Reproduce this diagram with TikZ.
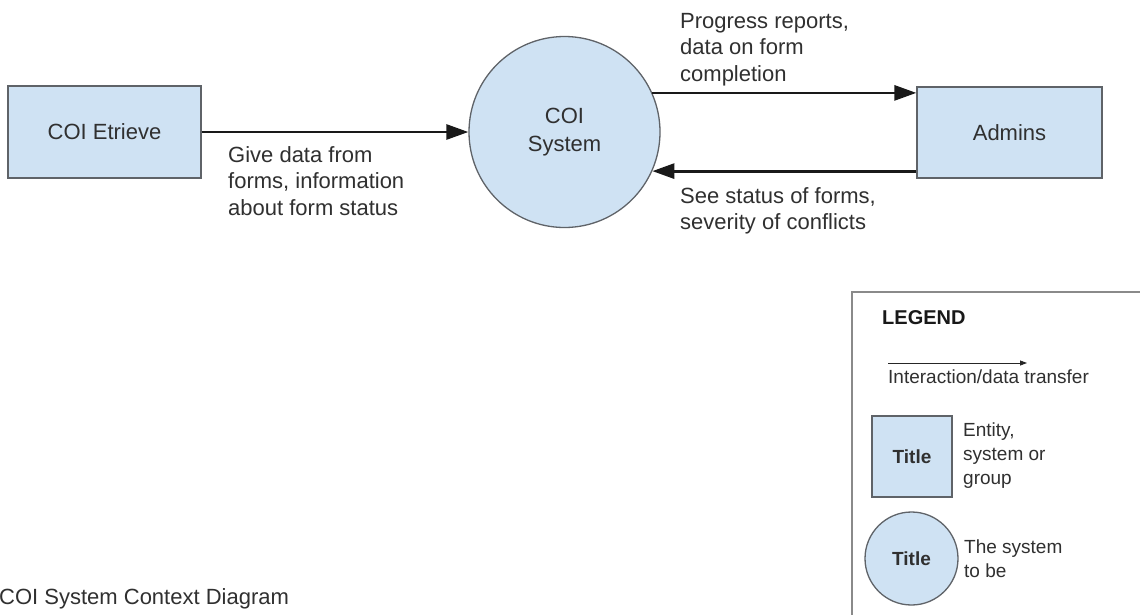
\documentclass[tikz,border=0pt]{standalone}
\usepackage{fontspec}
\setmainfont{Liberation Sans}
\usetikzlibrary{arrows.meta}

\definecolor{boxblue}{HTML}{CFE2F3}
\definecolor{edgegray}{HTML}{5F6368}
\definecolor{ink}{HTML}{303030}
\definecolor{framegray}{HTML}{8A8A8A}

\newcommand{\mainsize}{\fontsize{22}{26.5}\selectfont}
\newcommand{\legsize}{\fontsize{19}{24}\selectfont}

\begin{document}
\begin{tikzpicture}[x=1pt,y=-1pt,
  entity/.style={draw=edgegray, line width=1.3, fill=boxblue, inner sep=0,
                 text=ink, font=\mainsize},
  sysbubble/.style={circle, draw=edgegray, line width=1.3, fill=boxblue, inner sep=0,
                 align=center, text=ink, font=\mainsize},
  flow/.style={line width=2.8, draw=black!90, -{Triangle[length=22,width=15]}},
  lbl/.style={anchor=base west, align=left, inner sep=0, text=ink, font=\mainsize},
  leglbl/.style={anchor=base west, align=left, inner sep=0, text=ink, font=\legsize},
]
\useasboundingbox (0,0) rectangle (1140,614);
\fill[white] (0,0) rectangle (1140,614);
\clip (0,0) rectangle (1140,614);

% main entities and the system
\node[entity, minimum width=193, minimum height=92] (etr) at (104.5,132) {COI Etrieve};
\node[sysbubble, minimum size=191, font=\fontsize{22}{28}\selectfont] (sys) at (564.5,132) {COI\\System};
\node[entity, minimum width=185, minimum height=91] (adm) at (1009.5,132.5) {Admins};

% data flows
\draw[flow] (etr.east) -- (etr.east -| sys.west);
\draw[flow] (sys.24) -- (sys.24 -| adm.west);
\draw[flow] (sys.-24 -| adm.west) -- (sys.-24);

% flow labels (anchored at the baseline of their last line)
\node[lbl] (lblin) at (228,215) {Give data from\\forms, information\\about form status};
\node[lbl] (lblout) at (680,81) {Progress reports,\\data on form\\completion};
\node[lbl] (lblback) at (680,229.5) {See status of forms,\\severity of conflicts};

% legend frame
\draw[framegray, line width=1.6] (852,292) rectangle (1170,650);
\node[anchor=base west, inner sep=0, text=black!90, font=\fontsize{20}{24}\selectfont\bfseries] (legtitle) at (882,324) {LEGEND};

\coordinate (lega) at (888,363);
\coordinate (legb) at (1027,363);
\draw[line width=0.8, black!85, -{Triangle[length=7,width=5]}] (lega) -- (legb);
\node[leglbl] (legflow) at (888,383) {Interaction/data transfer};

\node[entity, minimum width=80, minimum height=81, font=\legsize\bfseries] (legsq) at (912,456.5) {Title};
\node[leglbl] (legsqtxt) at (963,484) {Entity,\\system or\\group};

\node[sysbubble, minimum size=93, font=\legsize\bfseries] (legci) at (911.5,558.5) {Title};
\node[leglbl] (legcitxt) at (964,577) {The system\\to be};

% caption
\node[lbl] (caption) at (-1,604) {COI System Context Diagram};
\end{tikzpicture}
\end{document}
